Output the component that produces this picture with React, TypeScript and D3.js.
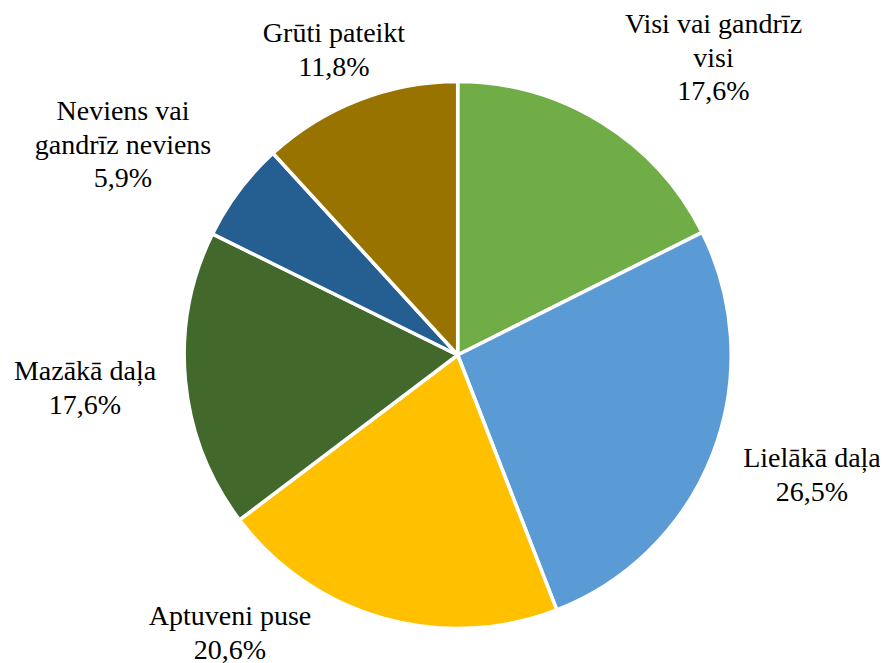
import React, { useEffect, useRef } from "react";
import * as d3 from "d3";

const categories = ["Visi vai gandrīz visi", "Lielākā daļa", "Aptuveni puse", "Mazākā daļa", "Neviens vai gandrīz neviens", "Grūti pateikt"];
const values = [17.6, 26.5, 20.6, 17.6, 5.9, 11.8];
const colors = ["#70AD47", "#5B9BD5", "#FFC000", "#43682B", "#255E91", "#997300"];
const labelLines = [
  ["Visi vai gandrīz", "visi", "17,6%"],
  ["Lielākā daļa", "26,5%"],
  ["Aptuveni puse", "20,6%"],
  ["Mazākā daļa", "17,6%"],
  ["Neviens vai", "gandrīz neviens", "5,9%"],
  ["Grūti pateikt", "11,8%"],
];
// label anchor positions (center x, first baseline y)
const labelPos: [number, number][] = [
  [713.5, 33],
  [812, 467],
  [230, 625],
  [85, 380],
  [123, 120],
  [334, 42],
];

const FONT = "'Liberation Serif', 'Times New Roman', Tinos, serif";

export default function App() {
  const W = 888, H = 663;
  const cx = 457.7, cy = 355, r = 273.5;
  const ref = useRef<SVGSVGElement>(null);
  const pie = d3.pie<number>().sort(null).value((d) => d);
  const arcs = pie(values);
  const arc = d3.arc<d3.PieArcDatum<number>>().innerRadius(0).outerRadius(r);

  useEffect(() => {
    if (!ref.current) return;
    d3.select(ref.current)
      .selectAll<SVGElement, unknown>("text, tspan")
      .each(function () {
        (this as SVGElement).style.setProperty("font-family", FONT, "important");
        (this as SVGElement).style.setProperty("font-size", "28px", "important");
      });
  }, []);

  return (
    <div style={{ margin: "-8px 0 0 -8px", width: W, height: H }}>
      <style>{`#root svg.pie-chart text.lbl, #root svg.pie-chart text.lbl tspan { font-family: ${FONT} !important; font-size: 28px !important; }`}</style>
      <svg ref={ref} className="pie-chart" width={W} height={H} style={{ display: "block" }}>
        <rect width={W} height={H} fill="#fff" />
        <g transform={`translate(${cx},${cy})`}>
          {arcs.map((a, i) => (
            <path key={categories[i]} d={arc(a) || ""} fill={colors[i]} stroke="#fff" strokeWidth={3.5} strokeLinejoin="round" />
          ))}
        </g>
        {labelLines.map((lines, i) => (
          <text key={i} className="lbl" x={labelPos[i][0]} y={labelPos[i][1]} textAnchor="middle" fontFamily="Liberation Serif" fontSize={28} fill="#000">
            {lines.map((l, j) => (
              <tspan key={j} x={labelPos[i][0]} dy={j === 0 ? 0 : 33.5}>{l}</tspan>
            ))}
          </text>
        ))}
      </svg>
    </div>
  );
}
